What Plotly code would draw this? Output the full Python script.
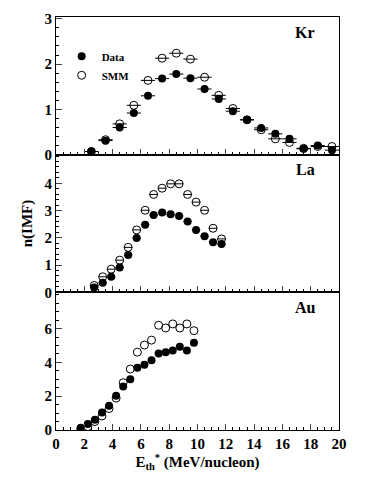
import plotly.graph_objects as go
from plotly.subplots import make_subplots

# Kr panel
kr_x = [2.5, 3.5, 4.5, 5.5, 6.5, 7.5, 8.5, 9.5, 10.5, 11.5, 12.5, 13.5, 14.5, 15.5, 16.5, 17.5, 18.5, 19.5]
kr_data = [0.07, 0.31, 0.60, 0.92, 1.30, 1.68, 1.78, 1.69, 1.45, 1.23, 0.96, 0.77, 0.59, 0.46, 0.35, 0.13, 0.20, 0.10]
kr_smm = [0.07, 0.33, 0.68, 1.09, 1.64, 2.13, 2.24, 2.11, 1.71, 1.31, 1.02, 0.77, 0.55, 0.35, 0.27, 0.14, 0.18, 0.18]

# La panel
la_x = [2.7, 3.3, 3.9, 4.5, 5.1, 5.7, 6.3, 6.9, 7.5, 8.1, 8.7, 9.3, 9.9, 10.5, 11.1, 11.7]
la_data = [0.18, 0.35, 0.57, 0.91, 1.37, 1.99, 2.48, 2.84, 2.93, 2.86, 2.80, 2.60, 2.29, 2.06, 1.84, 1.77]
la_smm = [0.25, 0.57, 0.85, 1.18, 1.65, 2.29, 3.01, 3.59, 3.82, 3.98, 3.98, 3.59, 3.31, 3.01, 2.35, 1.96]

# Au panel
au_x = [1.75, 2.25, 2.75, 3.25, 3.75, 4.25, 4.75, 5.25, 5.75, 6.25, 6.75, 7.25, 7.75, 8.25, 8.75, 9.25, 9.75]
au_data = [0.14, 0.36, 0.60, 1.03, 1.43, 2.03, 2.58, 3.00, 3.69, 3.87, 4.13, 4.53, 4.61, 4.71, 4.93, 4.71, 5.17]
au_smm = [0.08, 0.20, 0.50, 0.83, 1.27, 1.89, 2.80, 3.61, 4.61, 5.03, 5.32, 6.20, 6.04, 6.28, 6.04, 6.28, 5.88]

# name, x, data, smm, x half-width, y range, y tick labels, minor step
panels = [
    ("Kr", kr_x, kr_data, kr_smm, 0.5, [0, 3.04], [0, 1, 2, 3], 0.2),
    ("La", la_x, la_data, la_smm, 0.3, [0, 5.05], [0, 1, 2, 3, 4], 0.2),
    ("Au", au_x, au_data, au_smm, 0.0, [0, 8.15], [0, 2, 4, 6], 0.5),
]

fnt = dict(family="Liberation Serif", color="black", weight="bold")

fig = make_subplots(rows=3, cols=1, shared_xaxes=True, vertical_spacing=0)

for i, (name, x, d, s, ex, yr, tv, mdt) in enumerate(panels):
    row = i + 1
    fig.add_trace(go.Scatter(
        x=x, y=s, mode="markers", name="SMM", showlegend=(row == 1),
        marker=dict(symbol="circle-open", size=8, color="black", line=dict(width=1)),
        error_x=dict(type="constant", value=ex, color="black", thickness=1, width=0, visible=ex > 0),
    ), row=row, col=1)
    fig.add_trace(go.Scatter(
        x=x, y=d, mode="markers", name="Data", showlegend=(row == 1),
        marker=dict(symbol="circle", size=8, color="black"),
        error_x=dict(type="constant", value=ex, color="black", thickness=1, width=0, visible=ex > 0),
    ), row=row, col=1)
    fig.update_yaxes(range=yr, tickvals=tv, ticks="inside", ticklen=6, tickwidth=1,
                     minor=dict(dtick=mdt, tick0=0, ticks="inside", ticklen=3, tickcolor="black"),
                     showline=True, linecolor="black", linewidth=1, mirror=True,
                     showgrid=False, zeroline=False,
                     tickfont=dict(size=15, **fnt), row=row, col=1)
    # panel label (Kr / La / Au)
    fig.add_annotation(text=name, xref="x domain", yref="y domain",
                       x=0.88, y=0.89, xanchor="center", yanchor="middle",
                       showarrow=False, font=dict(size=16, **fnt),
                       row=row, col=1)

fig.update_xaxes(range=[0, 20], dtick=2, ticks="inside", ticklen=6, tickwidth=1,
                 minor=dict(dtick=0.5, ticks="inside", ticklen=3, tickcolor="black"),
                 showline=True, linecolor="black", linewidth=1, mirror=True,
                 showgrid=False, zeroline=False, tickfont=dict(size=15, **fnt))
fig.update_xaxes(title=dict(text="E<sub>th</sub><sup>*</sup> (MeV/nucleon)",
                            font=dict(size=15, **fnt), standoff=4), row=3, col=1)
fig.update_yaxes(title=dict(text="n(IMF)", font=dict(size=15, **fnt), standoff=8), row=2, col=1)

fig.update_layout(
    width=374, height=483,
    margin=dict(l=56, r=35, t=17, b=53),
    paper_bgcolor="white", plot_bgcolor="white",
    font=fnt,
    legend=dict(x=0.02, y=0.94, xanchor="left", yanchor="top", traceorder="reversed",
                font=dict(size=11, **fnt), bgcolor="rgba(0,0,0,0)", itemwidth=30),
)

fig.write_html("out.html", config={"displayModeBar": False},
               post_script="document.body.style.margin='0';")
